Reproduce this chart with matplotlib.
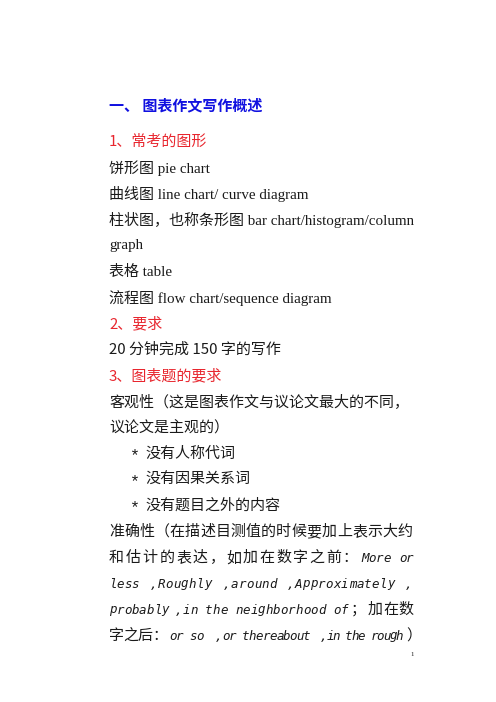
import matplotlib
matplotlib.use("Agg")
import matplotlib.pyplot as plt

plt.rcParams['font.family'] = ['Liberation Serif', 'Noto Sans CJK SC', 'DejaVu Sans']

# page text
title = "一、 图表作文写作概述"
section1 = "1、常考的图形"
chart_types = ["饼形图 pie chart",
               "曲线图 line chart/ curve diagram",
               "柱状图，也称条形图 bar chart/histogram/column",
               "graph",
               "表格 table",
               "流程图 flow chart/sequence diagram"]
section2 = "2、要求"
requirement = "20 分钟完成 150 字的写作"
section3 = "3、图表题的要求"
objective = ["客观性（这是图表作文与议论文最大的不同，",
             "议论文是主观的）"]
bullets = ["没有人称代词", "没有因果关系词", "没有题目之外的内容"]
accuracy_head = "准确性（在描述目测值的时候要加上表示大约"
# justified italic lines: (text, kind)
acc_line2 = [("和估计的表达，如", "cjk"), ("加在数字之前：", "cjk"),
             ("More", "mono"), ("or", "mono")]
acc_line3 = [("less", "mono"), (",Roughly", "mono"), (",around", "mono"),
             (",Approximately", "mono"), (",", "mono")]
acc_line4 = [("probably", "mono"), (",in the neighborhood of", "mono"),
             ("；", "cjk"), ("加在数", "cjk")]
acc_line5 = [("字之后：", "cjk"), ("or so", "mono"), (",or thereabout", "mono"),
             (",in the rough", "mono"), ("）", "cjk")]
page_no = "1"

# x offsets and widths (px) of each run in the justified lines
x_line2 = [109, 243, 361, 399]
w_line2 = [134, 116, 30, 14]
x_line3 = [109, 150, 223, 287, 405]
w_line3 = [30, 62, 54, 108, 7]
x_line4 = [109, 175, 351, 368]
w_line4 = [60, 173, 12, 46]
x_line5 = [109, 169, 215, 320, 406]
w_line5 = [58, 34, 95, 82, 10]

BLUE = "#1010e0"
RED = "#e8262e"
INK = "#1a1a1a"
FS = 10.8
LEFT = 109
STEP = 26

fig = plt.figure(figsize=(4.96, 7.02), dpi=100)
ax = fig.add_axes([0, 0, 1, 1])
ax.set_xlim(0, 496)
ax.set_ylim(702, 0)
ax.axis("off")


def put(x, y, s, color=INK, **kw):
    return ax.text(x, y, s, color=color, fontsize=kw.pop("fontsize", FS),
                   va="center", ha="left", **kw)


def spread(x0, y, s, width, color=INK):
    # justified CJK: one char per slot
    pitch = width / len(s)
    for i, ch in enumerate(s):
        put(x0 + i * pitch, y, ch, color=color, family=["Noto Sans CJK SC"])


def mono(x0, y, s, width):
    # italic typewriter run, spaced to its slot
    pitch = width / len(s)
    for i, ch in enumerate(s):
        put(x0 + i * pitch, y, ch, family=["DejaVu Sans Mono"],
            style="oblique", fontsize=9.0)


def runs(y, parts, xs, ws):
    for (s, kind), x, w in zip(parts, xs, ws):
        if kind == "mono":
            mono(x, y, s, w)
        else:
            spread(x, y, s, w)


put(LEFT, 105, title, color=BLUE, fontweight="bold",
    family=["Noto Sans CJK SC"])

y = 142
put(LEFT, y, section1, color=RED, family=["Noto Sans CJK SC"])
for line in chart_types:
    y += STEP
    put(LEFT, y, line)
y += STEP
put(LEFT, y, section2, color=RED, family=["Noto Sans CJK SC"])
y += STEP
put(LEFT, y, requirement, family=["Noto Sans CJK SC"])
y += STEP
put(LEFT, y, section3, color=RED, family=["Noto Sans CJK SC"])
for line in objective:
    y += STEP
    put(LEFT, y, line)
for b in bullets:
    y += STEP
    put(130, y + 2, "*", fontsize=12, family=["Liberation Mono"])
    put(145, y, b)
y += STEP
spread(LEFT, y, accuracy_head, 304)
for parts, xs, ws in [(acc_line2, x_line2, w_line2), (acc_line3, x_line3, w_line3),
                      (acc_line4, x_line4, w_line4), (acc_line5, x_line5, w_line5)]:
    y += STEP
    runs(y, parts, xs, ws)

put(410, 655, page_no, fontsize=5)

fig.savefig("out.png", dpi=100, facecolor="white")
